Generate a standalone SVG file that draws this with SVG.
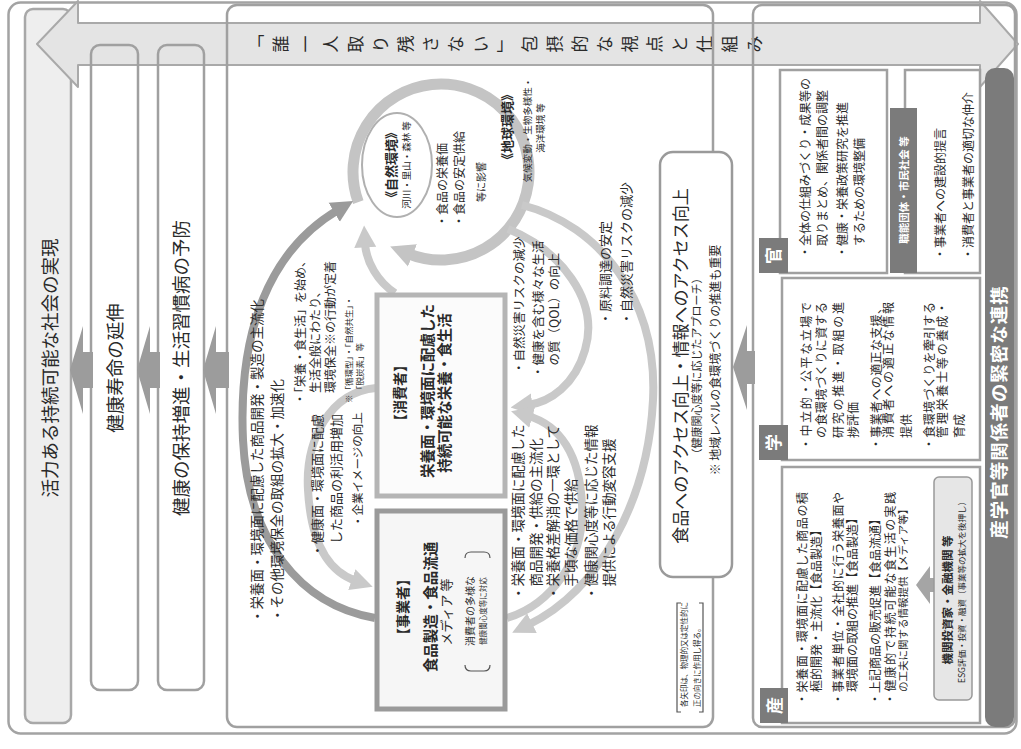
<svg xmlns="http://www.w3.org/2000/svg" width="1021" height="749" viewBox="0 0 1021 749">
<defs>
<style>
.t{font-family:"Noto Sans CJK JP","Noto Sans CJK SC","Noto Sans",sans-serif;fill:#2a2a2a}
.b{font-weight:700}
.w{fill:#ffffff}
.frame{fill:none;stroke:#a3a3a3;stroke-width:2.5}
.col{fill:none;stroke:#a0a0a0;stroke-width:2.5}
.box{fill:#ffffff;stroke:#a0a0a0;stroke-width:2.5}
.tag{fill:#7b7b7b}
.arcL{fill:none;stroke:#c9c9c9;stroke-width:8}
.arcD{fill:none;stroke:#9b9b9b;stroke-width:8}
.flow{fill:#9c9c9c}
.brk{fill:none;stroke:#555;stroke-width:1.2}
</style>
<marker id="headLight" viewBox="0 0 10 10" refX="2" refY="5" markerWidth="22" markerHeight="26" markerUnits="userSpaceOnUse" orient="auto"><path d="M0,0 L10,5 L0,10 z" fill="#c9c9c9"/></marker>
<marker id="headDark" viewBox="0 0 10 10" refX="2" refY="5" markerWidth="22" markerHeight="26" markerUnits="userSpaceOnUse" orient="auto"><path d="M0,0 L10,5 L0,10 z" fill="#9b9b9b"/></marker>
<marker id="headRing" viewBox="0 0 10 10" refX="2" refY="5" markerWidth="24" markerHeight="30" markerUnits="userSpaceOnUse" orient="auto"><path d="M0,0 L10,5 L0,10 z" fill="#c4c4c4"/></marker>
</defs>
<rect width="1021" height="749" fill="#ffffff"/>

<!-- outer frame -->
<rect class="frame" x="8.5" y="2.5" width="1008" height="731" rx="12"/>

<!-- goal column: society -->
<g id="goal-society">
<rect x="25" y="9" width="46" height="714" rx="8" fill="#eeeeee" stroke="#a8a8a8" stroke-width="2.5"/>
<text class="t" font-size="18.5" text-anchor="middle" transform="translate(57,368) rotate(-90)">活力ある持続可能な社会の実現</text>
</g>

<!-- double-headed band -->
<g id="inclusion-band">
<polygon points="37,44 78,1 78,23 980,23 980,1 1018,44 980,87 980,65 78,65 78,87" fill="#e4e4e4" stroke="#a9a9a9" stroke-width="2" stroke-linejoin="round"/>
<g class="t" font-size="17" text-anchor="middle">
<text x="256" y="50">「</text>
<text transform="translate(287.4,44) rotate(-90)">誰</text>
<text transform="translate(312.3,44) rotate(-90)">一</text>
<text transform="translate(337.2,44) rotate(-90)">人</text>
<text transform="translate(362.1,44) rotate(-90)">取</text>
<text transform="translate(387,44) rotate(-90)">り</text>
<text transform="translate(411.9,44) rotate(-90)">残</text>
<text transform="translate(436.8,44) rotate(-90)">さ</text>
<text transform="translate(461.7,44) rotate(-90)">な</text>
<text transform="translate(486.6,44) rotate(-90)">い</text>
<text x="505" y="50">」</text>
<text transform="translate(536.4,44) rotate(-90)">包</text>
<text transform="translate(561.3,44) rotate(-90)">摂</text>
<text transform="translate(586.2,44) rotate(-90)">的</text>
<text transform="translate(611.1,44) rotate(-90)">な</text>
<text transform="translate(636,44) rotate(-90)">視</text>
<text transform="translate(660.9,44) rotate(-90)">点</text>
<text transform="translate(685.8,44) rotate(-90)">と</text>
<text transform="translate(710.7,44) rotate(-90)">仕</text>
<text transform="translate(735.6,44) rotate(-90)">組</text>
<text transform="translate(760.5,44) rotate(-90)">み</text>
</g>
</g>

<!-- goal columns: healthy life, prevention -->
<g id="goal-healthy-life">
<rect class="col" x="91" y="45" width="47" height="645" rx="9"/>
<text class="t" font-size="18.5" text-anchor="middle" transform="translate(122,368) rotate(-90)">健康寿命の延伸</text>
</g>
<g id="goal-prevention">
<rect class="col" x="158" y="45" width="46" height="645" rx="9"/>
<text class="t" font-size="18.5" text-anchor="middle" transform="translate(188,368) rotate(-90)">健康の保持増進・生活習慣病の予防</text>
</g>

<!-- central panel and partner panel frames -->
<rect id="food-environment-panel" class="col" x="227" y="5" width="486" height="722" rx="10"/>
<rect id="partner-panel" class="col" x="753" y="5" width="262" height="722" rx="9"/>

<!-- connectors -->
<g id="connectors">
<!-- broad flow arrows -->
<polygon class="flow" points="70,370 83,326 83,352 93,352 93,388 83,388 83,414"/>
<polygon class="flow" points="137,370 150,326 150,352 160,352 160,388 150,388 150,414"/>
<polygon class="flow" points="203,370 216,326 216,352 229,352 229,388 216,388 216,414"/>
<polygon class="flow" points="733,367 747,325 747,351 755,351 755,384 747,384 747,410"/>
<!-- environment cycle -->
<path d="M358.3,202.1 A88,88 0 1 1 408,253.6" fill="none" stroke="#c4c4c4" stroke-width="11" marker-end="url(#headRing)"/>
<!-- business to environment -->
<path class="arcD" d="M375,618 C300,605 248,540 243,440 C238,330 270,250 338,210" marker-end="url(#headDark)"/>
<!-- consumer to business -->
<path class="arcL" stroke-width="9" d="M376,388 C330,392 305,440 308,490 C311,545 330,572 356,581" marker-end="url(#headLight)"/>
<!-- consumer to environment -->
<path class="arcL" d="M395,293 C378,282 366,262 365,243" marker-end="url(#headLight)"/>
<!-- environment to consumer -->
<path class="arcL" d="M508,229 C560,250 600,300 585,350 C575,385 550,402 528,405" marker-end="url(#headLight)"/>
<!-- environment to business -->
<path class="arcL" d="M522,205 C600,225 658,300 653,400 C648,500 600,590 528,625" marker-end="url(#headLight)"/>
<!-- business to consumer -->
<path class="arcL" d="M507,618 C550,605 585,560 582,505 C580,455 560,425 528,416" marker-end="url(#headLight)"/>

<!-- connector labels -->
<text class="t" font-size="13.5" transform="translate(262,623) rotate(-90)">・栄養面・環境面に配慮した商品開発・製造の主流化</text>
<text class="t" font-size="13.5" transform="translate(282,622) rotate(-90)">・その他環境保全の取組の拡大・加速化</text>
<text class="t" font-size="13" transform="translate(322,557) rotate(-90)"><tspan x="0" dy="0">・健康面・環境面に配慮</tspan><tspan x="13" dy="19">した商品の利活用増加</tspan></text>
<text class="t" font-size="11.5" transform="translate(362.4,527) rotate(-90)">・企業イメージの向上</text>
<text class="t" font-size="12" transform="translate(304.6,405) rotate(-90)"><tspan x="0" dy="0">・「栄養・食生活」を始め、</tspan><tspan x="12" dy="15">生活全般にわたり、</tspan><tspan x="12" dy="15">環境保全※の行動が定着</tspan></text>
<text class="t" font-size="8.5" transform="translate(352,403) rotate(-90)"><tspan x="0" dy="0">※「循環型」・「自然共生」・</tspan><tspan x="9" dy="10.5">「脱炭素」等</tspan></text>
<text class="t" font-size="12.5" transform="translate(523.8,374) rotate(-90)">・自然災害リスクの減少</text>
<text class="t" font-size="12.5" transform="translate(542.8,378) rotate(-90)"><tspan x="0" dy="0">・健康を含む様々な生活</tspan><tspan x="12.5" dy="16">の質（QOL）の向上</tspan></text>
<text class="t" font-size="13" transform="translate(610,325) rotate(-90)"><tspan x="0" dy="0">・原料調達の安定</tspan><tspan x="0" dy="21">・自然災害リスクの減少</tspan></text>
<text class="t" font-size="13.5" transform="translate(523,600) rotate(-90)"><tspan x="0" dy="0">・栄養面・環境面に配慮した</tspan><tspan x="13.5" dy="18">商品開発・供給の主流化</tspan><tspan x="0" dy="17">・栄養格差解消の一環として</tspan><tspan x="13.5" dy="18">手頃な価格で供給</tspan><tspan x="0" dy="20">・健康関心度等に応じた情報</tspan><tspan x="13.5" dy="18">提供による行動変容支援</tspan></text>
</g>

<!-- natural and global environment -->
<g id="environment">
<ellipse cx="397" cy="165" rx="35" ry="52" fill="none" stroke="#b0b0b0" stroke-width="2"/>
<text class="t b" font-size="13" text-anchor="middle" transform="translate(396,165) rotate(-90)">《自然環境》</text>
<text class="t" font-size="9.5" text-anchor="middle" transform="translate(409.6,165) rotate(-90)">河川・里山・森林 等</text>
<text class="t" font-size="12" transform="translate(446.6,227) rotate(-90)">・食品の栄養価</text>
<text class="t" font-size="12" transform="translate(463.6,227) rotate(-90)">・食品の安定供給</text>
<text class="t" font-size="10" transform="translate(484.8,202) rotate(-90)">等に影響</text>
<text class="t b" font-size="13" text-anchor="middle" transform="translate(512,127) rotate(-90)">《地球環境》</text>
<text class="t" font-size="9.5" text-anchor="middle" transform="translate(530.6,130) rotate(-90)">気候変動・生物多様性・</text>
<text class="t" font-size="9.5" text-anchor="middle" transform="translate(543.6,128) rotate(-90)">海洋環境 等</text>
</g>

<!-- consumers -->
<g id="consumers">
<rect x="377" y="295" width="128" height="201" fill="#fbfbfb" stroke="#b5b5b5" stroke-width="5"/>
<text class="t b" font-size="14" text-anchor="middle" transform="translate(405.3,393) rotate(-90)">【消費者】</text>
<text class="t b" font-size="14.5" text-anchor="middle" transform="translate(432.5,391) rotate(-90)">栄養面・環境面に配慮した</text>
<text class="t b" font-size="14.5" text-anchor="middle" transform="translate(449.5,393) rotate(-90)">持続可能な栄養・食生活</text>
</g>

<!-- businesses -->
<g id="businesses">
<rect x="377" y="511" width="128" height="198" fill="#f6f6f6" stroke="#9a9a9a" stroke-width="5"/>
<text class="t b" font-size="14" text-anchor="middle" transform="translate(408.3,607) rotate(-90)">【事業者】</text>
<text class="t b" font-size="14.5" text-anchor="middle" transform="translate(435.5,607) rotate(-90)">食品製造・食品流通</text>
<text class="t" font-size="13" text-anchor="middle" transform="translate(451,612) rotate(-90)">メディア 等</text>
<path class="brk" d="M465,558 Q465,552 471,552 L484,552 Q490,552 490,558"/>
<path class="brk" d="M465,665 Q465,671 471,671 L484,671 Q490,671 490,665"/>
<text class="t" font-size="10" text-anchor="middle" transform="translate(474,611) rotate(-90)">消費者の多様な</text>
<text class="t" font-size="7.5" text-anchor="middle" transform="translate(486,611) rotate(-90)">健康関心度等に対応</text>
</g>

<!-- access to food and information -->
<g id="food-access">
<rect x="660" y="152" width="72" height="425" rx="13" fill="#ffffff" stroke="#9a9a9a" stroke-width="2.5"/>
<text class="t" font-size="17" text-anchor="middle" transform="translate(686.5,366) rotate(-90)">食品へのアクセス向上・情報へのアクセス向上</text>
<text class="t" font-size="11" text-anchor="middle" transform="translate(701,366) rotate(-90)">（健康関心度等に応じたアプローチ）</text>
<text class="t" font-size="12" text-anchor="middle" transform="translate(719.6,360) rotate(-90)">※ 地域レベルの食環境づくりの推進も重要</text>
</g>

<!-- arrow note -->
<g id="arrow-note">
<path class="brk" d="M681,603 L677,603 L677,712 L681,712"/>
<path class="brk" d="M699,603 L703,603 L703,712 L699,712"/>
<text class="t" font-size="7.5" transform="translate(687,707) rotate(-90)"><tspan x="0" dy="0">各矢印は、物理的又は定性的に</tspan><tspan x="0" dy="12.5">正の向きに作用し得る。</tspan></text>
</g>

<!-- government -->
<g id="government">
<rect class="box" x="780" y="70" width="107" height="203"/>
<rect class="tag" x="759" y="238" width="29" height="35"/>
<text class="t w b" font-size="17" text-anchor="middle" transform="translate(780,255.5) rotate(-90)">官</text>
<text class="t" font-size="12" transform="translate(809.6,258) rotate(-90)"><tspan x="0" dy="0">・全体の仕組みづくり・成果等の</tspan><tspan x="12" dy="17">取りまとめ、関係者間の調整</tspan><tspan x="0" dy="20">・健康・栄養政策研究を推進</tspan><tspan x="12" dy="17">するための環境整備</tspan></text>
</g>

<!-- professional bodies and civil society -->
<g id="civil-society">
<rect class="box" x="905" y="70" width="75" height="203"/>
<rect class="tag" x="890" y="108" width="27" height="165"/>
<text class="t w b" font-size="10.5" text-anchor="middle" transform="translate(907.5,190) rotate(-90)">職能団体・市民社会 等</text>
<text class="t" font-size="12" transform="translate(944.6,260) rotate(-90)"><tspan x="0" dy="0">・事業者への建設的提言</tspan><tspan x="0" dy="28">・消費者と事業者の適切な仲介</tspan></text>
</g>

<!-- academia -->
<g id="academia">
<rect class="box" x="782" y="278" width="198" height="182"/>
<rect class="tag" x="759" y="425" width="29" height="35"/>
<text class="t w b" font-size="17" text-anchor="middle" transform="translate(780,442.5) rotate(-90)">学</text>
<g class="t" font-size="12" lengthAdjust="spacing">
<text transform="translate(810.6,450) rotate(-90)" textLength="148">・中立的・公平な立場で</text>
<text transform="translate(825.6,438) rotate(-90)" textLength="136">の食環境づくりに資する</text>
<text transform="translate(842.6,438) rotate(-90)" textLength="136">研究の推進・取組の進</text>
<text transform="translate(857.6,438) rotate(-90)">捗評価</text>
<text transform="translate(880.6,450) rotate(-90)" textLength="148">・事業者への適正な支援、</text>
<text transform="translate(892.6,438) rotate(-90)" textLength="136">消費者への適正な情報</text>
<text transform="translate(910.6,438) rotate(-90)">提供</text>
<text transform="translate(933.6,450) rotate(-90)" textLength="148">・食環境づくりを牽引する</text>
<text transform="translate(946.6,438) rotate(-90)" textLength="136">管理栄養士等の養成・</text>
<text transform="translate(963.6,438) rotate(-90)">育成</text>
</g>
</g>

<!-- industry -->
<g id="industry">
<rect class="box" x="782" y="467" width="198" height="256"/>
<rect class="tag" x="760" y="688" width="28" height="35"/>
<text class="t w b" font-size="17" text-anchor="middle" transform="translate(780.5,705.5) rotate(-90)">産</text>
<g class="t" font-size="12">
<text transform="translate(806.6,705) rotate(-90)" textLength="213" lengthAdjust="spacing">・栄養面・環境面に配慮した商品の積</text>
<text transform="translate(820.6,692) rotate(-90)">極的開発・主流化【食品製造】</text>
<text transform="translate(842.6,705) rotate(-90)" textLength="213" lengthAdjust="spacing">・事業者単位・全社的に行う栄養面や</text>
<text transform="translate(856.6,692) rotate(-90)">環境面の取組の推進【食品製造】</text>
<text transform="translate(879.6,705) rotate(-90)">・上記商品の販売促進【食品流通】</text>
<text transform="translate(894.6,705) rotate(-90)" textLength="213" lengthAdjust="spacing">・健康的で持続可能な食生活の実践</text>
<text font-size="10.5" transform="translate(907,692) rotate(-90)">の工夫に関する情報提供【メディア等】</text>
</g>
</g>

<!-- investors -->
<g id="investors">
<polygon points="916,585 930,566 930,578 936,578 936,592 930,592 930,604" fill="#a5a5a5"/>
<rect x="934" y="477" width="38" height="223" rx="5" fill="#e6e6e6" stroke="#999999" stroke-width="1.5"/>
<text class="t b" font-size="11.5" text-anchor="middle" transform="translate(952.4,600) rotate(-90)">機関投資家・金融機関 等</text>
<text class="t" font-size="8.5" text-anchor="middle" transform="translate(965.2,590) rotate(-90)">ESG評価・投資・融資（事業等の拡大を後押し）</text>
</g>

<!-- partnership bar -->
<g id="partnership">
<rect class="tag" x="985" y="68" width="29" height="659" rx="10"/>
<text class="t w b" font-size="18.5" letter-spacing="1" text-anchor="middle" transform="translate(1006,412) rotate(-90)">産学官等関係者の緊密な連携</text>
</g>
</svg>
